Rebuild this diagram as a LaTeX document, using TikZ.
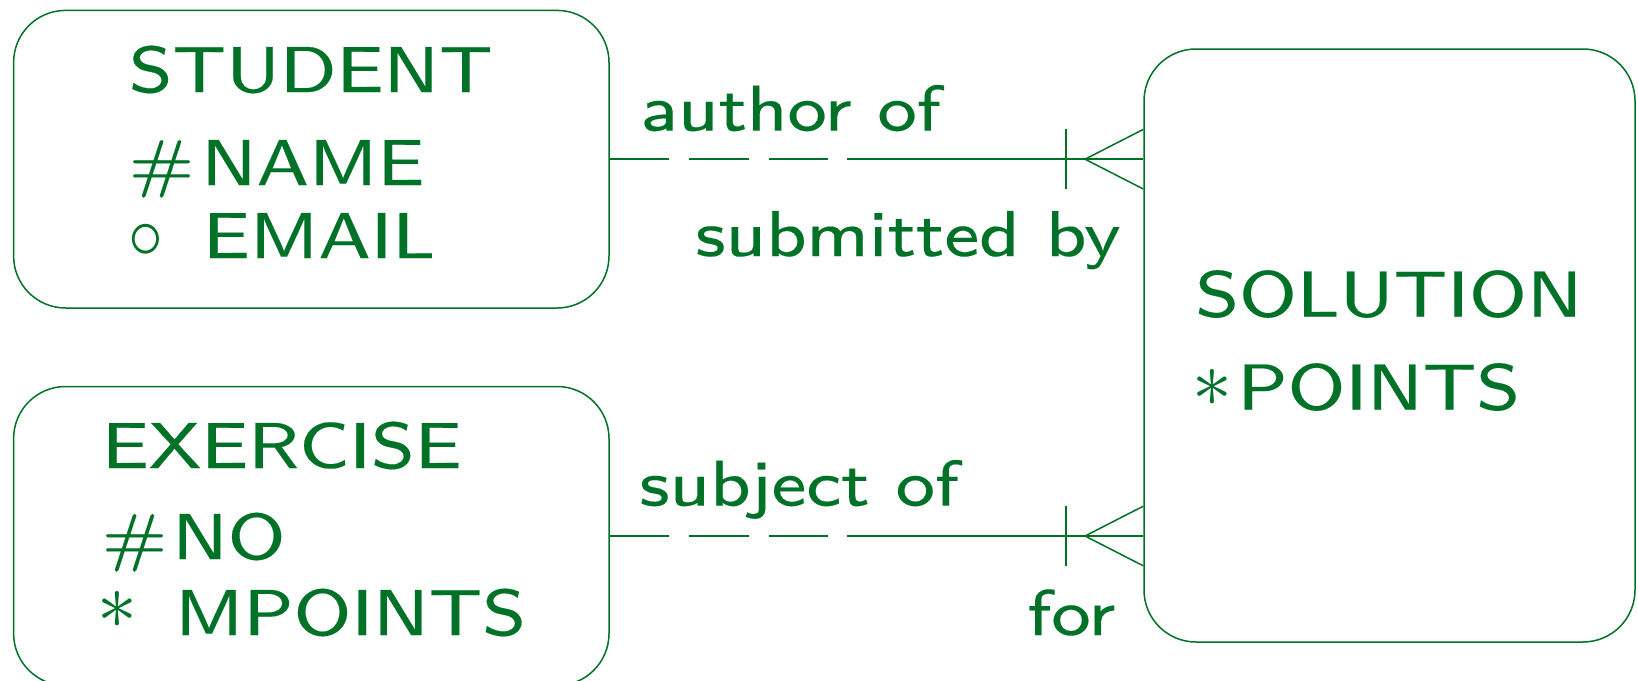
\documentclass[tikz,border=0pt]{standalone}
\usepackage{fontspec}
\usepackage{graphicx}
\newfontfamily\ersf{lmsans8-regular.otf}[FakeStretch=1.14, FakeBold=0.25]
\usetikzlibrary{calc}
\definecolor{ergreen}{RGB}{0,114,40}
\tikzset{
  entity/.style={draw=ergreen, line width=0.75pt, rounded corners=26pt, inner sep=0pt},
  lbl/.style={anchor=base west, inner sep=0pt, text=ergreen, font=\ersf\fontsize{32.4}{36}\selectfont},
  sym/.style={anchor=center, inner sep=0pt, text=ergreen, font=\fontsize{32.4}{36}\selectfont},
  rel/.style={draw=ergreen, line width=0.75pt},
  opt/.style={rel, dash pattern=on 29.75pt off 10pt},
}
\newcommand{\erstar}{\scalebox{1.6}{$\ast$}}
\newcommand{\eropt}{\scalebox{1.4}[1.55]{$\circ$}}
\begin{document}
\begin{tikzpicture}[x=0.5pt, y=-0.5pt]
\useasboundingbox (0,0) rectangle (1638,680);
\clip (0,0) rectangle (1638,680);
% entity boxes
\node[entity, minimum width=297.7pt, minimum height=148.8pt] (stud) at (311.3,159.2) {};
\node[entity, minimum width=297.7pt, minimum height=149.5pt] (exer) at (311.3,536) {};
\node[entity, minimum width=245.5pt, minimum height=296.5pt] (sol) at (1389.5,345.5) {};
% STUDENT attributes
\node[lbl] (tstud) at (128.5,92) {STUDENT};
\node[lbl] (aname) at (128.5,185) {\#\kern3.5pt NAME};
\node[sym] (cmail) at (145.5,241.8) {\eropt};
\node[lbl] (amail) at (202.5,258) {EMAIL};
% EXERCISE attributes
\node[lbl] (texer) at (101.5,468) {EXERCISE};
\node[lbl] (ano) at (101.5,559) {\#\kern2.5pt NO};
\node[sym] (smp) at (117.5,610) {\erstar};
\node[lbl] (amp) at (174.5,635) {MPOINTS};
% SOLUTION attributes
\node[lbl] (tsol) at (1195,316.5) {SOLUTION};
\node[sym] (spt) at (1212,387.5) {\erstar};
\node[lbl] (apt) at (1237,409.5) {POINTS};
% relationship names
\node[lbl] (r1a) at (640,130.6) {author of};
\node[lbl] (r1b) at (695,256) {submitted by};
\node[lbl] (r2a) at (639,505.6) {subject of};
\node[lbl] (r2b) at (1027,635) {for};
% relationship: STUDENT -- SOLUTION
\coordinate (m1) at (stud.east -| 847,0);
\coordinate (b1) at (stud.east -| 1066,0);
\coordinate (c1) at (stud.east -| 1085,0);
\draw[opt] (stud.east) -- (m1);
\draw[rel] (m1) -- (sol.west |- stud.east);
\draw[rel] ($(b1)+(0,-29.8)$) -- ($(b1)+(0,29.8)$);
\draw[rel] ($(sol.west |- stud.east)+(0,-29.8)$) -- (c1) -- ($(sol.west |- stud.east)+(0,29.8)$);
% relationship: EXERCISE -- SOLUTION
\coordinate (m2) at (exer.east -| 847,0);
\coordinate (b2) at (exer.east -| 1066,0);
\coordinate (c2) at (exer.east -| 1085,0);
\draw[opt] (exer.east) -- (m2);
\draw[rel] (m2) -- (sol.west |- exer.east);
\draw[rel] ($(b2)+(0,-29.8)$) -- ($(b2)+(0,29.8)$);
\draw[rel] ($(sol.west |- exer.east)+(0,-29.8)$) -- (c2) -- ($(sol.west |- exer.east)+(0,29.8)$);
\end{tikzpicture}
\end{document}
